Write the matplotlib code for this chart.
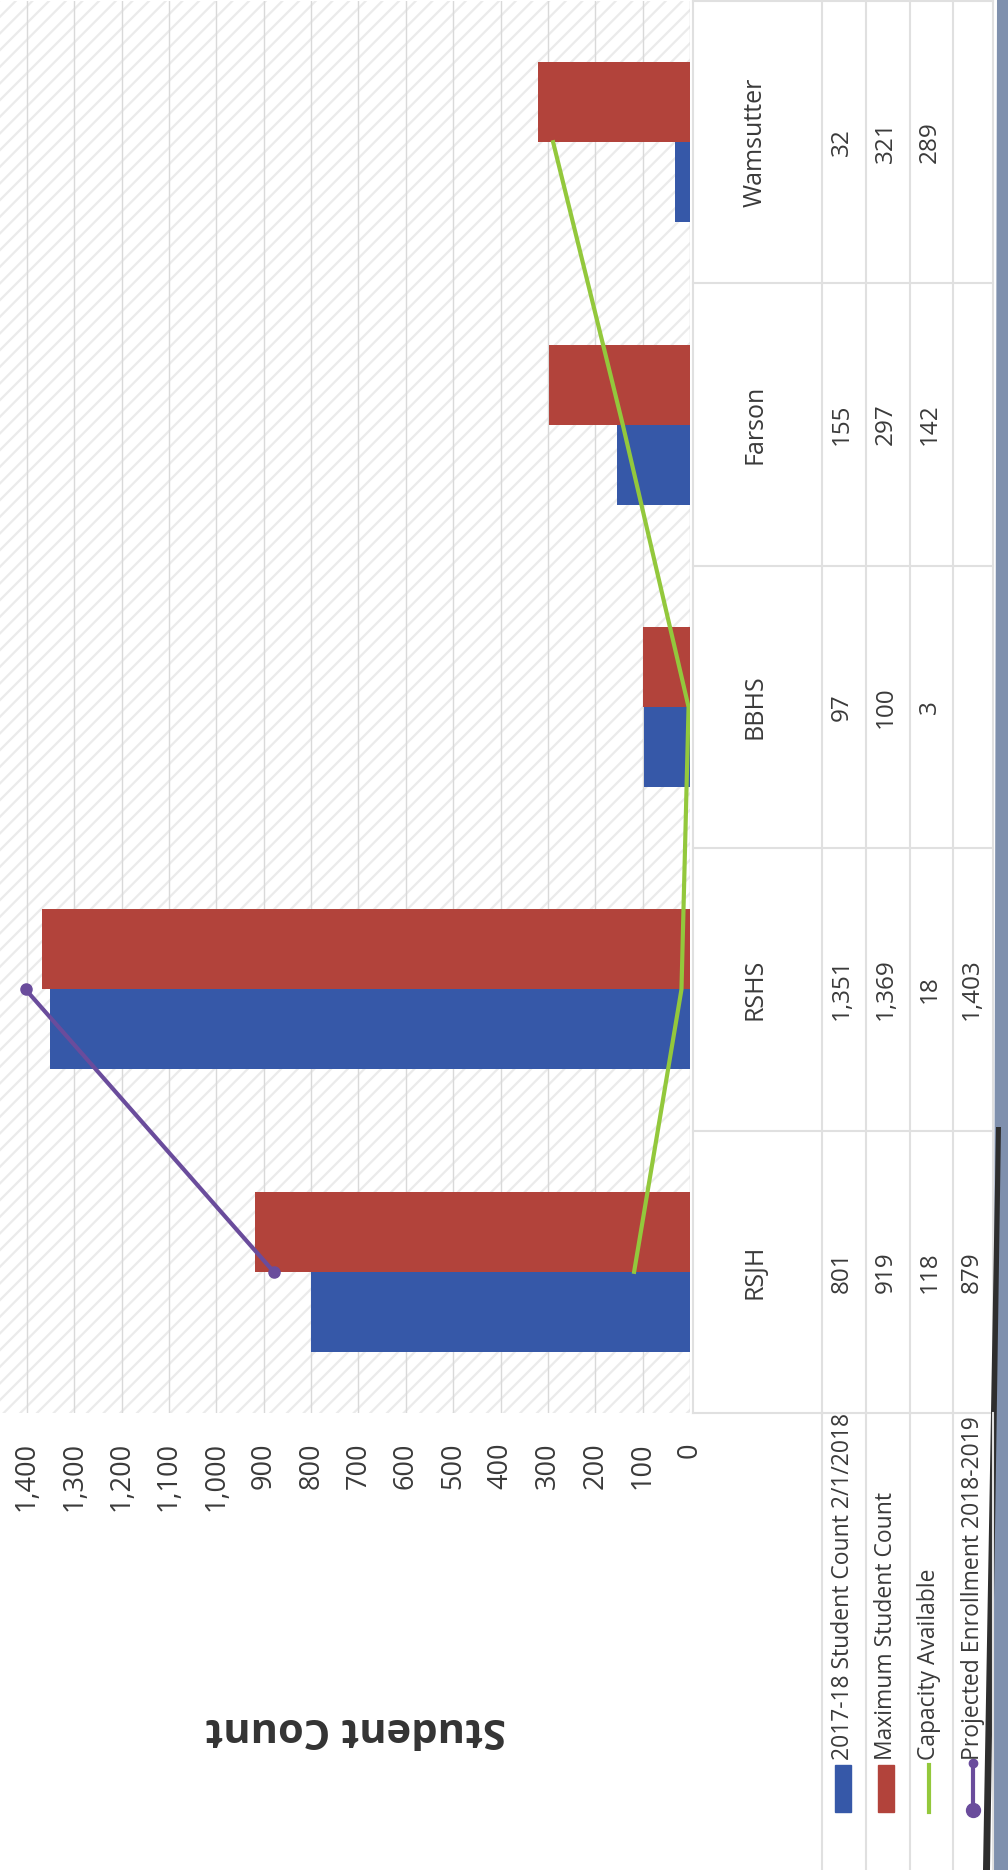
import numpy as np
import matplotlib
matplotlib.use("Agg")
import matplotlib.pyplot as plt
from matplotlib.patches import Rectangle, Polygon

plt.rcParams['font.family'] = ['Open Sans', 'DejaVu Sans']
plt.rcParams['hatch.linewidth'] = 1.6

# ---- data ----
categories = ["RSJH", "RSHS", "BBHS", "Farson", "Wamsutter"]
student_count = [801, 1351, 97, 155, 32]
max_count = [919, 1369, 100, 297, 321]
capacity = [118, 18, 3, 142, 289]
projected = [879, 1403, np.nan, np.nan, np.nan]
series_names = ["2017-18 Student Count 2/1/2018", "Maximum Student Count",
                "Capacity Available", "Projected Enrollment 2018-2019"]
ticks = list(range(0, 1500, 100))

BLUE = '#3658a8'
RED = '#b2433b'
GREEN = '#93c83c'
PURPLE = '#6a4c9c'
TXT = '#3a3a3a'
GRID = '#d9d9d9'

W, H = 1008, 1870
fig = plt.figure(figsize=(W / 100, H / 100), dpi=100)
fig.patch.set_facecolor('white')

# main (rotated) plot area: values increase to the left, categories bottom->top
top_px, bot_px, right_px = 1, 1413, 690
ax = fig.add_axes([0, (H - bot_px) / H, right_px / W, (bot_px - top_px) / H])
y = np.arange(len(categories))
bh = 0.283
ax.add_patch(Rectangle((0, 0), 1, 1, transform=ax.transAxes, facecolor='white',
                       edgecolor='#ebebeb', hatch='//', lw=0, zorder=0.1))
ax.barh(y - bh / 2, student_count, height=bh, color=BLUE, zorder=2)
ax.barh(y + bh / 2, max_count, height=bh, color=RED, zorder=2)
ax.plot(capacity, y, color=GREEN, lw=3, zorder=3)
ax.plot(projected, y, color=PURPLE, lw=3, marker='o', ms=8, zorder=4)
ax.set_xlim(1457, 0)
ax.set_ylim(-0.5, len(categories) - 0.5)
ax.set_xticks(ticks)
ax.set_xticklabels([f"{t:,}" for t in ticks], rotation=90, fontsize=19.5, color=TXT)
ax.tick_params(axis='x', length=0, pad=21)
ax.set_yticks([])
ax.set_axisbelow(True)
ax.grid(axis='x', color=GRID, lw=1.0, zorder=0.5)
for s in ax.spines.values():
    s.set_visible(False)
ax.patch.set_alpha(0)

# data table (rotated)
tab = fig.add_axes([693 / W, (H - bot_px) / H, 300 / W, (bot_px - top_px) / H], sharey=ax)
tab.set_xlim(0, 300)
tab.axis('off')
col_edges = [0, 129, 173, 217, 260, 300]
for xe in col_edges:
    tab.axvline(xe, color='#e0e0e0', lw=1.5, clip_on=False)
for b in np.arange(-0.5, len(categories), 1.0):
    tab.axhline(b, color='#e0e0e0', lw=1.5, clip_on=False)
cat_x = 62
val_x = [149, 193, 237, 279]
for i, c in enumerate(categories):
    tab.text(cat_x, i, c, rotation=90, ha='center', va='center', fontsize=18, color=TXT)
for sx, vals in zip(val_x, [student_count, max_count, capacity, projected]):
    for i, v in enumerate(vals):
        if not np.isnan(v):
            tab.text(sx, i, f"{int(v):,}", rotation=90, ha='center', va='center',
                     fontsize=17.5, color=TXT)

# overlay in pixel coordinates for legend / labels
ov = fig.add_axes([0, 0, 1, 1])
ov.set_xlim(0, W)
ov.set_ylim(H, 0)
ov.axis('off')
ov.patch.set_alpha(0)
for xe in [822, 866, 910, 953, 993]:
    ov.plot([xe, xe], [bot_px, H], color='#e0e0e0', lw=1.5)

ov.text(356, 1729, "Student Count", rotation=180, ha='center', va='center',
        fontsize=30, fontweight='bold', color='#333333')

leg_x = [843, 886, 929, 973]
for lx, name in zip(leg_x, series_names):
    ov.text(lx, 1760, name, rotation=90, ha='center', va='bottom', fontsize=16.5, color=TXT)
ov.add_patch(Rectangle((835, 1765), 16, 47, color=BLUE))
ov.add_patch(Rectangle((878, 1765), 16, 47, color=RED))
ov.plot([929, 929], [1765, 1812], color=GREEN, lw=3)
ov.plot([973, 973], [1763, 1810], color=PURPLE, lw=3)
ov.plot([973], [1763], 'o', color=PURPLE, ms=6)
ov.plot([973], [1810], 'o', color=PURPLE, ms=10)

# scanner edge
ov.add_patch(Polygon([[997, 0], [W, 0], [W, H], [993, H]], closed=True,
                     facecolor='#7f90ad', edgecolor='none'))
ov.add_patch(Polygon([[996, 1127], [1001, 1127], [990, H], [983, H]], closed=True,
                     facecolor='#2e2e2e', edgecolor='none'))

fig.savefig("out.png", dpi=100, facecolor='white')
